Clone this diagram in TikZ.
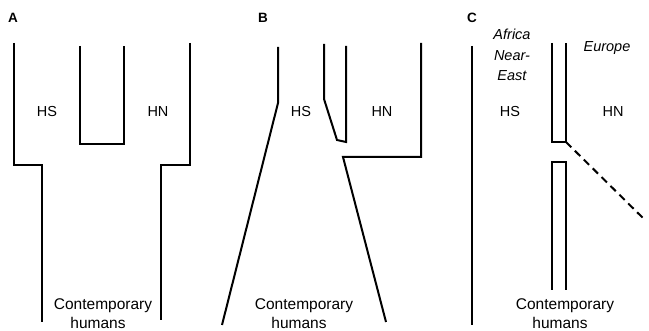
\documentclass[tikz,border=0pt]{standalone}
\usepackage{fontspec}
\setmainfont{Liberation Sans}
\usetikzlibrary{positioning}

\begin{document}
\begin{tikzpicture}[x=1pt,y=-1pt]

    % looks shared by the three panels
    \tikzset{
        branch/.style={line width=2pt, line join=miter},
        gene/.style={branch, dash pattern=on 7.5pt off 5pt},
        panel/.style={font=\fontsize{13.5}{13.5}\selectfont\bfseries, inner sep=0pt},
        taxon/.style={font=\fontsize{14.5}{14.5}\selectfont, inner sep=0pt},
        region/.style={font=\fontsize{14.5}{20.5}\selectfont\itshape, align=center, inner sep=0pt},
        today/.style={font=\fontsize{15.5}{19.5}\selectfont, align=center, inner sep=0pt}
    }

    \useasboundingbox (0,0) rectangle (649,331);

    % Panel A
    \begin{scope}
        \node[panel] (A) at (13,18) {A};
        \draw[branch] (14,43) |- (42,165) -- (42,322);
        \draw[branch] (80,46) |- (124,144) -- (124,46);
        \draw[branch] (190,43) |- (161,165) -- (161,320);
        \node[taxon] (hsA) at (47,112) {HS};
        \node[taxon] (hnA) at (158,112) {HN};
        \node[today] (nowA) at (103,313.5) {Contemporary\\humans\hspace*{10pt}};
    \end{scope}

    % Panel B
    \begin{scope}
        \node[panel] (B) at (263,18) {B};
        \draw[branch] (278,47) -- (278,103) -- (222,325);
        \draw[branch] (324,44) -- (324,99) -- (337,140) -- (346,142) -- (346,46);
        \draw[branch] (421,43) |- (343,157) -- (386,322);
        \node[taxon] (hsB) at (301,112) {HS};
        \node[taxon] (hnB) at (382,112) {HN};
        \node[today] (nowB) at (304,313.5) {Contemporary\\humans\hspace*{10pt}};
    \end{scope}

    % Panel C
    \begin{scope}
        \node[panel] (C) at (472,18) {C};
        \draw[branch] (472,46) -- (472,325);
        \draw[branch] (552,43) |- (566,142) -- (566,43);
        \draw[branch] (552,290) |- (566,162) -- (566,290);
        \draw[gene] (566,142) -- (646,221);
        \node[region] (afr) at (512,55) {Africa\\Near-\\East};
        \node[region] (eur) at (607,48) {Europe};
        \node[taxon] (hsC) at (510,112) {HS};
        \node[taxon] (hnC) at (613,112) {HN};
        \node[today] (nowC) at (565,313.5) {Contemporary\\humans\hspace*{10pt}};
    \end{scope}

\end{tikzpicture}
\end{document}
